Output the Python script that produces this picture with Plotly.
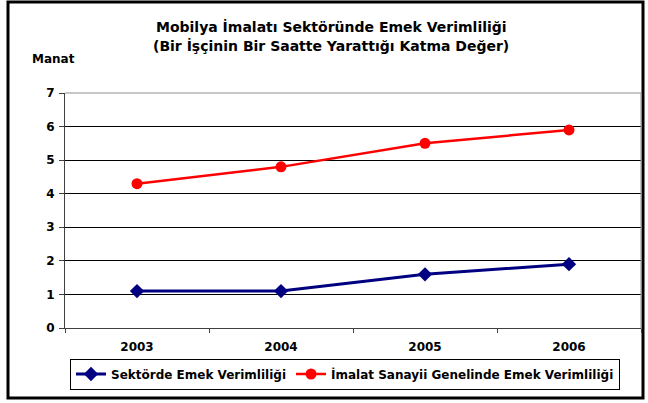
import plotly.graph_objects as go

years = ["2003", "2004", "2005", "2006"]
sektor = [1.1, 1.1, 1.6, 1.9]
imalat = [4.3, 4.8, 5.5, 5.9]
series_names = ["Sektörde Emek Verimliliği", "İmalat Sanayii Genelinde Emek Verimliliği"]
title_lines = ["Mobilya İmalatı Sektöründe Emek Verimliliği",
               "(Bir İşçinin Bir Saatte Yarattığı Katma Değer)"]
y_title = "Manat"

FONT = "DejaVu Sans, Verdana, sans-serif"

fig = go.Figure()
fig.add_trace(go.Scatter(
    x=years, y=sektor, name=series_names[0], mode="lines+markers",
    line=dict(color="#000080", width=3),
    marker=dict(symbol="diamond", size=11, color="#000080"),
))
fig.add_trace(go.Scatter(
    x=years, y=imalat, name=series_names[1], mode="lines+markers",
    line=dict(color="#FF0000", width=2.5),
    marker=dict(symbol="circle", size=11, color="#FF0000"),
))

L, R, T, B = 65, 7, 93, 75
W, H = 648, 403
pw, ph = W - L - R, H - T - B

def px(x):
    return (x - L) / pw

def py(y):
    return (H - B - y) / ph

fig.update_layout(
    width=W, height=H,
    margin=dict(l=L, r=R, t=T, b=B),
    paper_bgcolor="white", plot_bgcolor="white",
    font=dict(family=FONT, size=12, color="black", weight="bold"),
    showlegend=True,
    legend=dict(
        orientation="h", x=px(345), y=py(374), xanchor="center", yanchor="middle",
        bordercolor="black", borderwidth=1, bgcolor="white",
        font=dict(family=FONT, size=12, color="black", weight="bold"),
        itemwidth=30, tracegroupgap=0,
    ),
    xaxis=dict(
        type="category", range=[-0.5, 3.5], showgrid=False,
        showline=True, linecolor="#404040", linewidth=1, mirror=False,
        ticks="outside", tickson="boundaries", ticklen=4, tickcolor="#404040",
        tickfont=dict(size=12, weight="bold"), ticklabelstandoff=8,
        fixedrange=True,
    ),
    yaxis=dict(
        range=[0, 7], dtick=1, showgrid=True, gridcolor="#000000", gridwidth=1,
        zeroline=False, showline=True, linecolor="#404040", linewidth=1, mirror=False,
        ticks="outside", ticklen=5, tickcolor="#404040",
        tickfont=dict(size=12, weight="bold"), ticklabelstandoff=2,
        fixedrange=True,
    ),
)

# light border on the top and right of the plotting area
fig.add_shape(type="line", xref="paper", yref="paper", x0=0, x1=1, y0=1, y1=1,
              line=dict(color="#909090", width=1))
fig.add_shape(type="line", xref="paper", yref="paper", x0=1, x1=1, y0=0, y1=1,
              line=dict(color="#909090", width=1))

# title lines and axis caption
fig.add_annotation(text=title_lines[0], xref="paper", yref="paper",
                   x=px(331), y=py(27), xanchor="center", yanchor="middle",
                   showarrow=False, font=dict(size=14, weight="bold"))
fig.add_annotation(text=title_lines[1], xref="paper", yref="paper",
                   x=px(331), y=py(46), xanchor="center", yanchor="middle",
                   showarrow=False, font=dict(size=14, weight="bold"))
fig.add_annotation(text=y_title, xref="paper", yref="paper",
                   x=px(53), y=py(59), xanchor="center", yanchor="middle",
                   showarrow=False, font=dict(size=12, weight="bold"))

# outer chart frame
fig.add_shape(type="rect", xref="paper", yref="paper",
              x0=px(8), x1=px(643), y0=py(398), y1=py(2),
              line=dict(color="black", width=3), layer="below")

fig.write_html("out.html")
